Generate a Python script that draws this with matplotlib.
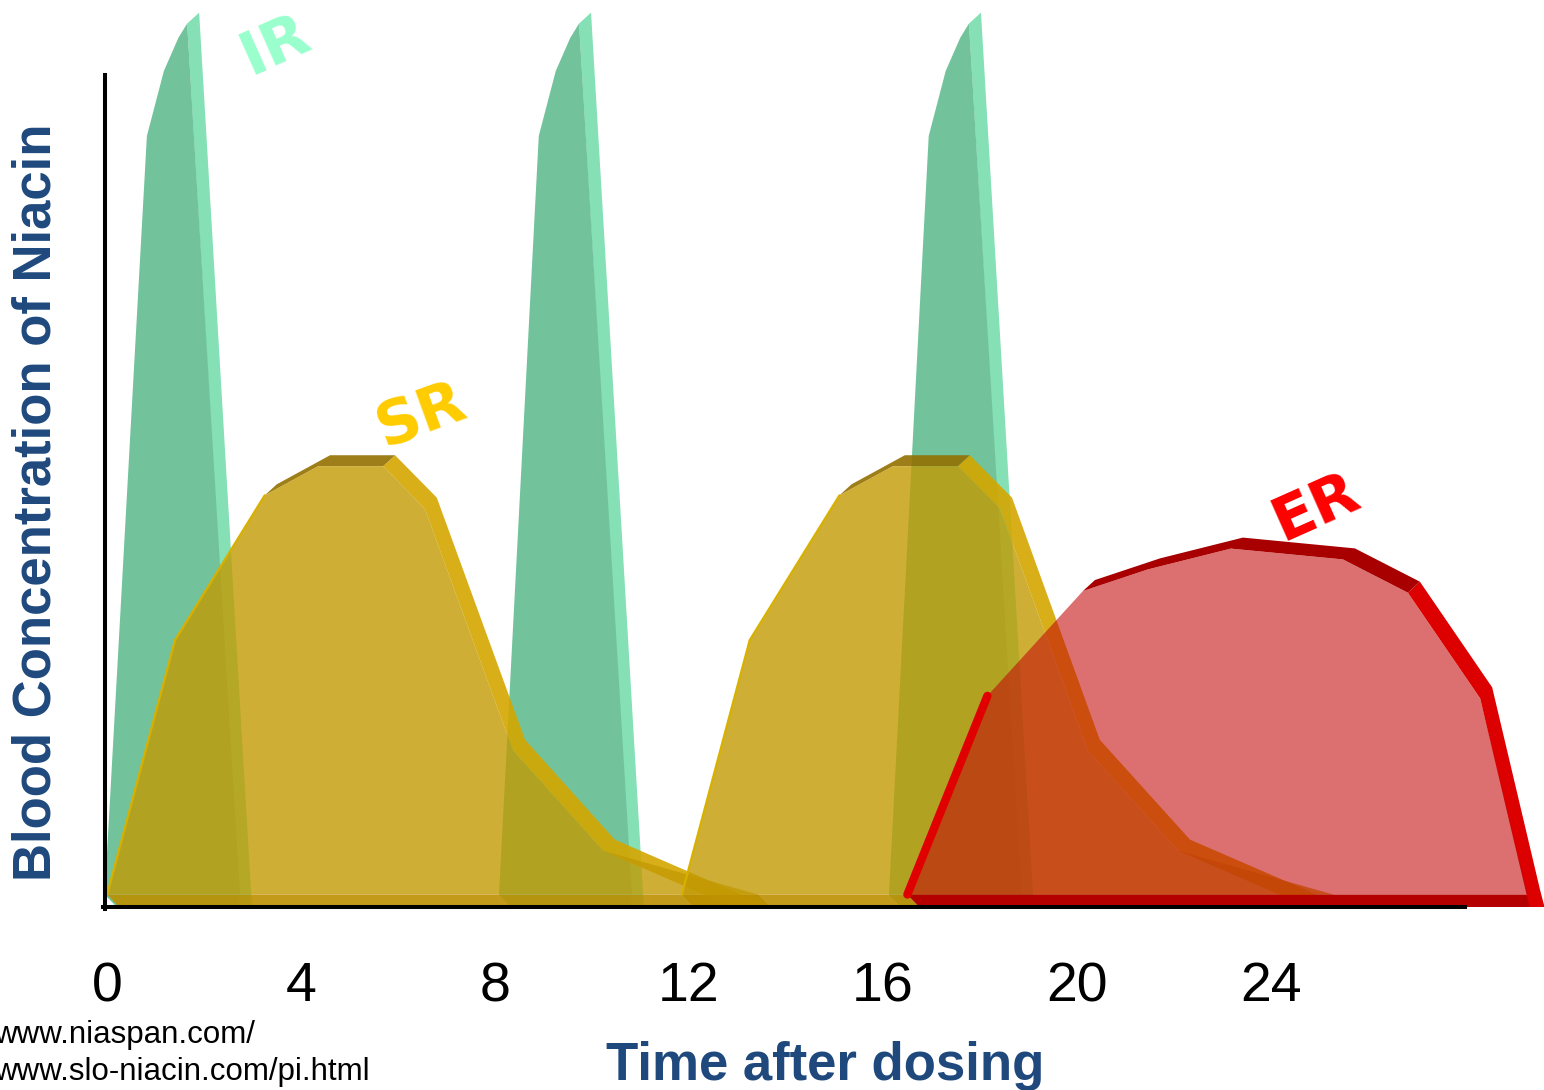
import matplotlib
matplotlib.use("Agg")
import matplotlib.pyplot as plt
from matplotlib.patches import Polygon, Rectangle, PathPatch
from matplotlib.path import Path
import numpy as np

plt.rcParams['font.family'] = ['Liberation Sans', 'DejaVu Sans']

# ---------------- data (hours, relative concentration) ----------------
ir_time = [0.20, 1.07, 1.42, 1.72, 1.90, 2.99,
           8.33, 9.15, 9.50, 9.80, 9.98, 11.07,
           16.37, 17.19, 17.54, 17.84, 18.02, 19.11]
ir_conc = [0, 94.0, 101.8, 105.8, 107.5, 0,
           0, 94.0, 101.8, 105.8, 107.5, 0,
           0, 94.0, 101.8, 105.8, 107.5, 0]

sr1_time = [0.25, 1.65, 3.50, 4.60, 5.94, 6.80, 8.62, 10.47, 13.67]
sr1_conc = [0, 33.4, 50.8, 54.3, 54.3, 49.2, 20.1, 8.1, 0]
sr2_time = [12.10, 13.50, 15.35, 16.45, 17.79, 18.66, 20.47, 22.33, 25.53]
sr2_conc = [0, 33.4, 50.8, 54.3, 54.3, 49.2, 20.1, 8.1, 0]

er_time = [16.75, 18.40, 20.37, 21.71, 23.42, 25.73, 27.07, 28.56, 29.55, 29.64]
er_conc = [0, 26.7, 39.3, 41.9, 44.4, 43.1, 39.1, 26.4, 2.0, 0]

time_ticks = [0, 4, 8, 12, 16, 20, 24]
tick_labels = ['0', '4', '8', '12', '16', '20', '24']

# ---------------- layout helpers ----------------
W, H = 1544, 1090
PX_X = 48.5          # pixels per hour
PX_Y = 8.32          # pixels per concentration unit
X0, Y0 = 107, 907    # pixel position of origin
SHIFT_PX = (-12, 11) # front face offset (px, right / down)
DX, DY = SHIFT_PX[0] / PX_X, -SHIFT_PX[1] / PX_Y
FLOOR = 1.5

fig = plt.figure(figsize=(W / 100, H / 100), dpi=100)
ax = fig.add_axes([0, 0, 1, 1])
ax.set_xlim(-X0 / PX_X, (W - X0) / PX_X)
ax.set_ylim(-(H - Y0) / PX_Y, Y0 / PX_Y)
ax.patch.set_alpha(0)

clip_rect = Rectangle((-10, 0), 60, 200, transform=ax.transData)


def compound(polys):
    verts, codes = [], []
    for p in polys:
        verts.extend(list(p) + [p[0]])
        codes.extend([Path.MOVETO] + [Path.LINETO] * (len(p) - 1) + [Path.CLOSEPOLY])
    return Path(np.array(verts, float), codes)


def draw_3d(t, c, face, face_alpha, side, top, bottom, side_alpha,
            edge_color, edge_lw, z, edge_min_angle=0):
    t = np.asarray(t, float)
    c = np.asarray(c, float)
    cmax = c.max()
    # front face
    front = np.column_stack([t + DX, np.maximum(c + DY, FLOOR)])
    pf = Polygon(front, closed=True, facecolor=face, alpha=face_alpha,
                 lw=0, zorder=z + 0.02)
    ax.add_patch(pf)
    pf.set_clip_path(clip_rect)
    # bottom strip
    strip = [(t[0], 0), (t[-1], 0), (t[-1] + DX, FLOOR), (t[0] + DX, FLOOR)]
    ps = Polygon(strip, closed=True, facecolor=bottom, alpha=side_alpha,
                 lw=0, zorder=z)
    ax.add_patch(ps)
    ps.set_clip_path(clip_rect)
    # extruded sides
    side_polys, top_polys = [], []
    for i in range(len(t) - 1):
        P = np.array([t[i], c[i]])
        Q = np.array([t[i + 1], c[i + 1]])
        d = (Q - P) * np.array([PX_X, PX_Y])
        n = np.array([-d[1], d[0]])
        s = np.array([DX, DY])
        vis = n[0] * (-SHIFT_PX[0]) + n[1] * SHIFT_PX[1] > 0
        if not vis:
            seg_ang = np.degrees(np.arctan2(abs(d[1]), abs(d[0])))
            if edge_lw > 0 and seg_ang >= edge_min_angle:
                ax.plot([P[0] + DX, Q[0] + DX],
                        [max(P[1] + DY, FLOOR), max(Q[1] + DY, FLOOR)],
                        color=edge_color, lw=edge_lw, solid_capstyle='round',
                        zorder=z + 0.03, clip_path=clip_rect)
            continue
        quad = [P, Q, Q + s, P + s]
        ang = np.degrees(np.arctan2(abs(n[0]), n[1]))
        if n[1] > 0 and ang < 33 and min(c[i], c[i + 1]) > 0.5 * cmax:
            top_polys.append(quad)
        else:
            side_polys.append(quad)
    for polys, col in ((side_polys, side), (top_polys, top)):
        if polys:
            pp = PathPatch(compound(polys), facecolor=col, alpha=side_alpha,
                           lw=0, zorder=z + 0.01)
            ax.add_patch(pp)
            pp.set_clip_path(clip_rect)


# IR: split into individual doses at zero gaps
ir_t = np.array(ir_time)
ir_c = np.array(ir_conc)
starts = [0] + [i for i in range(1, len(ir_c)) if ir_c[i] == 0 and ir_c[i - 1] == 0]
bounds = starts + [len(ir_c)]
for a, b in zip(bounds[:-1], bounds[1:]):
    draw_3d(ir_t[a:b], ir_c[a:b], '#72C39B', 1.0, '#86E0B5', '#86E0B5',
            '#72C39B', 1.0, '#86E0B5', 0, 1.0)

# SR doses
sr_face = (195 / 255, 154 / 255, 3 / 255)
draw_3d(sr1_time, sr1_conc, sr_face, 0.8, '#D4A700', '#937000', '#BD8F00', 0.9,
        '#D8B000', 1.6, 1.2)
draw_3d(sr2_time, sr2_conc, sr_face, 0.8, '#D4A700', '#937000', '#BD8F00', 0.9,
        '#D8B000', 1.6, 1.3)

# ER
er_face = (195 / 255, 9 / 255, 9 / 255)
draw_3d(er_time, er_conc, er_face, 0.58, '#DD0000', '#A80000', '#B50000', 1.0,
        '#E00000', 6.0, 1.6, edge_min_angle=55)

# ---------------- axes ----------------
for sp in ('top', 'right'):
    ax.spines[sp].set_visible(False)
ax.spines['bottom'].set_position(('data', 0))
ax.spines['bottom'].set_bounds(-4 / PX_X, 1358 / PX_X)
ax.spines['left'].set_position(('data', -2 / PX_X))
ax.spines['left'].set_bounds(-0.25, 100)
for sp in ('bottom', 'left'):
    ax.spines[sp].set_linewidth(2.9)
    ax.spines[sp].set_color('black')
    ax.spines[sp].set_zorder(5)
ax.set_xticks(time_ticks)
ax.set_xticklabels(tick_labels)
ax.set_yticks([])
ax.tick_params(axis='x', length=0, pad=39, labelsize=40)

blue = '#1F497D'
fig.text(825 / W, 1 - 1080 / H, 'Time after dosing', fontsize=38,
         fontweight='bold', color=blue, ha='center', va='baseline')
fig.text(37 / W, 1 - 502 / H, 'Blood Concentration of Niacin', fontsize=38,
         fontweight='bold', color=blue, ha='center', va='center', rotation=90)

fig.text(-6 / W, 1 - 1043 / H, 'www.niaspan.com/', fontsize=22.5,
         color='black', ha='left', va='baseline')
fig.text(-6 / W, 1 - 1080 / H, 'www.slo-niacin.com/pi.html', fontsize=22.5,
         color='black', ha='left', va='baseline')

lab_font = dict(family=['DejaVu Sans'], fontweight='bold', fontsize=44,
                ha='center', va='center', rotation_mode='anchor')
fig.text(276 / W, 1 - 46 / H, 'IR', color='#99FFCC', rotation=24, **lab_font)
fig.text(421 / W, 1 - 416 / H, 'SR', color='#FFCC00', rotation=20, **lab_font)
fig.text(1316 / W, 1 - 508 / H, 'ER', color='#FF0000', rotation=24, **lab_font)

fig.savefig('out.png', dpi=100, facecolor='white')
